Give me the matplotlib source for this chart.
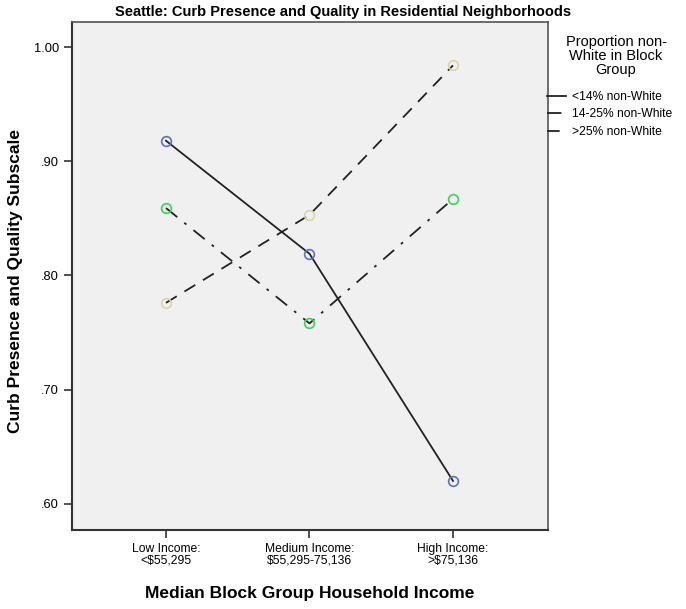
import matplotlib
matplotlib.use('Agg')
import matplotlib.pyplot as plt

plt.rcParams['font.family'] = ['Liberation Sans', 'DejaVu Sans']

# data
income_labels = ['Low Income:\n<$55,295', 'Medium Income:\n$55,295-75,136', 'High Income:\n>$75,136']
group_names = ['<14% non-White', '14-25% non-White', '>25% non-White']
lt14 = [0.918, 0.819, 0.620]
mid = [0.859, 0.758, 0.867]
gt25 = [0.776, 0.853, 0.984]
yticks = [0.60, 0.70, 0.80, 0.90, 1.00]

fig = plt.figure(figsize=(6.86, 6.09), dpi=100)
ax = fig.add_axes([72/686, 1-530/609, 476/686, 508/609])
ax.set_facecolor('#f0f0f0')

x = [0, 1, 2]
series = [lt14, mid, gt25]
styles = ['-', (0, (8, 5, 1.5, 5)), (0, (7, 5))]
mcolors = ['#5b6fc4', '#3fcf5c', '#d6d6a6']
handles = []
for vals, ls, mc, name in zip(series, styles, mcolors, group_names):
    h, = ax.plot(x, vals, color='#222222', lw=1.3, linestyle=ls, label=name)
    ax.plot(x, vals, linestyle='none', marker='o', ms=7, mfc='none',
            mec=mc, mew=1.2)
    handles.append(h)

ax.set_xlim(-0.655, 2.662)
ax.set_ylim(0.577, 1.022)
ax.set_xticks(x)
ax.set_xticklabels(income_labels, fontsize=8.7, linespacing=0.9)
ax.set_yticks(yticks)
ax.set_yticklabels(['.60', '.70', '.80', '.90', '1.00'], fontsize=9.3)
ax.tick_params(length=6, width=1.2, color='#333333')

for s in ax.spines.values():
    s.set_color('#555555')
    s.set_linewidth(1.2)
ax.spines['left'].set_color('#333333')
ax.spines['bottom'].set_color('#333333')
ax.spines['left'].set_linewidth(1.5)
ax.spines['bottom'].set_linewidth(1.5)

ax.set_xlabel('Median Block Group Household Income', fontsize=12.5, fontweight='bold', labelpad=14)
ax.set_ylabel('Curb Presence and Quality Subscale', fontsize=12.5, fontweight='bold')
ax.yaxis.set_label_coords(-0.103, 0.49)

fig.text(0.5, 1 - 12/609, 'Seattle: Curb Presence and Quality in Residential Neighborhoods',
         ha='center', va='center', fontsize=10.5, fontweight='bold',
         family=['Liberation Sans Narrow', 'Liberation Sans'])

fig.text(616/686, 1 - 56/609, 'Proportion non-\nWhite in Block\nGroup', ha='center',
         va='center', fontsize=10.5, linespacing=1.0)

leg = fig.legend(handles=handles, loc='upper left', bbox_to_anchor=(547/686, 1 - 91/609),
                 frameon=False, fontsize=8.7, handlelength=1.6, handletextpad=0.5,
                 labelspacing=0.45, borderaxespad=0, borderpad=0)

fig.savefig('out.png', dpi=100)
